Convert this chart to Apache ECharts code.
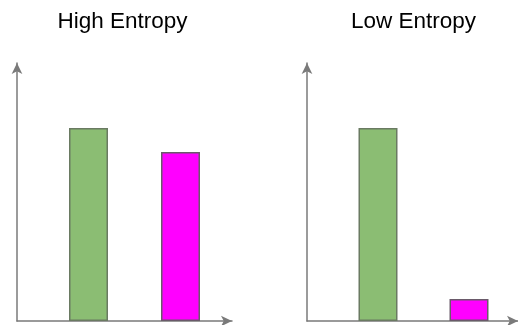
<!DOCTYPE html>
<html>
<head>
<meta charset="utf-8">
<script src="https://cdn.jsdelivr.net/npm/echarts@6/dist/echarts.min.js"></script>
<style>html,body{margin:0;padding:0;background:#fff}#c{width:518px;height:325px}</style>
</head>
<body>
<div id="c"></div>
<script>
var titles = ['High Entropy', 'Low Entropy'];
var categories = ['Green', 'Magenta'];
var highEntropy = [74.8, 65.5];
var lowEntropy = [74.8, 8.5];
var barColors = ['#8bbd73', '#ff00ff'];
var yMax = 100;

var chart = echarts.init(document.getElementById('c'));
var axisGray = '#7a7a7a';
// panel geometry
var panels = [
  {axisLeft: 17, axisWidth: 215, barLeft: 42.5, barWidth: 184, titleX: 122.5, data: highEntropy},
  {axisLeft: 307, axisWidth: 211, barLeft: 332.5, barWidth: 182, titleX: 413.5, data: lowEntropy}
];
var gridTop = 63, gridHeight = 258;
var grid = [], xAxis = [], yAxis = [], series = [], title = [];
panels.forEach(function (p, i) {
  title.push({text: titles[i], left: p.titleX, top: 10, padding: 0, textAlign: 'center',
    textStyle: {fontFamily: 'Liberation Sans, Arial, sans-serif', fontSize: 22.5, fontWeight: 'normal', color: '#000'}});
  // axes grid
  grid.push({left: p.axisLeft, top: gridTop, width: p.axisWidth, height: gridHeight});
  xAxis.push({gridIndex: 2 * i, type: 'value', min: 0, max: 1,
    axisLine: {show: true, symbol: ['none', 'arrow'], symbolSize: [8, 11], lineStyle: {color: axisGray, width: 1.5}},
    axisTick: {show: false}, axisLabel: {show: false}, splitLine: {show: false}});
  yAxis.push({gridIndex: 2 * i, type: 'value', min: 0, max: yMax,
    axisLine: {show: true, symbol: ['none', 'arrow'], symbolSize: [8, 11], lineStyle: {color: axisGray, width: 1.5}},
    axisTick: {show: false}, axisLabel: {show: false}, splitLine: {show: false}});
  // bars grid
  grid.push({left: p.barLeft, top: gridTop, width: p.barWidth, height: gridHeight});
  xAxis.push({gridIndex: 2 * i + 1, type: 'category', data: categories, show: false});
  yAxis.push({gridIndex: 2 * i + 1, type: 'value', min: 0, max: yMax, show: false});
  series.push({type: 'bar', xAxisIndex: 2 * i + 1, yAxisIndex: 2 * i + 1, barWidth: 39,
    data: p.data.map(function (v, k) {
      return {value: v, itemStyle: {color: barColors[k], borderColor: k === 0 ? '#6a7a62' : '#6a5a6a', borderWidth: 1.5}};
    }),
    z: 1});
});
chart.setOption({animation: false, title: title, grid: grid, xAxis: xAxis, yAxis: yAxis, series: series});
</script>
</body>
</html>
